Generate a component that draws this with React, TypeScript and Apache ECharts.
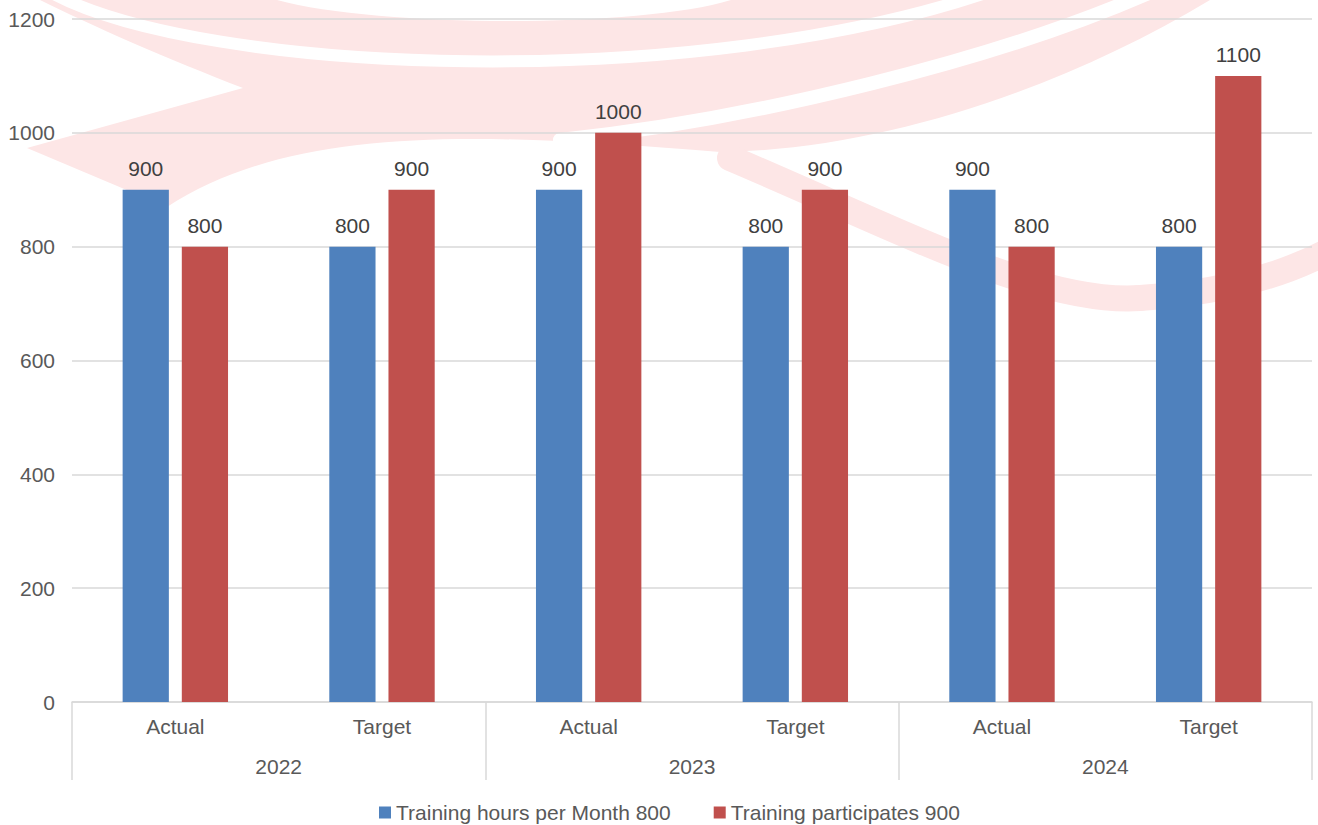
import React, { useEffect, useRef } from "react";
import * as echarts from "echarts";

const categories = ["Actual", "Target", "Actual", "Target", "Actual", "Target"];
const years = ["2022", "2023", "2024"];
const hoursPerMonth = [900, 800, 900, 800, 900, 800];
const participants = [800, 900, 1000, 900, 800, 1100];
const seriesNames = ["Training hours per Month 800", "Training participates 900"];
const yMin = 0;
const yMax = 1200;
const yInterval = 200;

const PINK = "#FDE6E6";
const FONT = "Liberation Sans, Arial, sans-serif";

const WM_MAIN =
  "M 27 148 L 243 88 C 170 60 90 25 40 0 L 1210 0 C 1060 90 880 150 720 152 C 500 135 300 120 167 207 Z";
const WM_TOP_WHITE = "M 277 0 C 380 28 640 28 731 0 Z";

echarts.graphic.registerShape("wmMain", echarts.graphic.extendPath(WM_MAIN, {}));
echarts.graphic.registerShape("wmTopWhite", echarts.graphic.extendPath(WM_TOP_WHITE, {}));

function watermark() {
  const curve = (x1: number, y1: number, cpx1: number, cpy1: number, cpx2: number, cpy2: number, x2: number, y2: number, lw: number, color: string, z: number) => ({
    type: "bezierCurve",
    z,
    silent: true,
    shape: { x1, y1, cpx1, cpy1, cpx2, cpy2, x2, y2 },
    style: { stroke: color, lineWidth: lw, fill: null, lineCap: "round" },
  });
  return [
    { type: "wmMain", x: 0, y: 0, z: -20, silent: true, style: { fill: PINK } },
    { type: "wmTopWhite", x: 0, y: 0, z: -15, silent: true, style: { fill: "#ffffff" } },
    curve(50, -8, 200, 75, 700, 95, 1000, -12, 12, "#ffffff", -15),
    curve(560, 140, 750, 120, 1000, 60, 1160, -12, 14, "#ffffff", -15),
    curve(730, 158, 900, 230, 1040, 305, 1140, 298, 26, PINK, -20),
    curve(1140, 298, 1230, 292, 1290, 272, 1330, 250, 26, PINK, -20),
  ];
}

export default function App() {
  const ref = useRef<HTMLDivElement>(null);
  useEffect(() => {
    if (!ref.current) return;
    const chart = echarts.init(ref.current, null, { renderer: "svg" });
    const labelStyle = {
      show: true,
      position: "top",
      distance: 11,
      fontSize: 21,
      color: "#404040",
      fontFamily: FONT,
    };
    chart.setOption({
      animation: false,
      backgroundColor: "#ffffff",
      graphic: watermark(),
      grid: { left: 72, right: 6, top: 19, bottom: 123, containLabel: false },
      legend: {
        left: 374,
        top: 797,
        itemWidth: 12,
        itemHeight: 12,
        itemGap: 43,
        icon: "rect",
        textStyle: { fontSize: 21, color: "#595959", fontFamily: FONT },
        data: seriesNames,
      },
      xAxis: [
        {
          type: "category",
          data: categories,
          position: "bottom",
          axisLine: { show: true, lineStyle: { color: "#d9d9d9", width: 1.5 } },
          axisTick: { show: false },
          axisLabel: { margin: 14, fontSize: 21, color: "#595959", fontFamily: FONT, interval: 0 },
        },
        {
          type: "category",
          data: years,
          position: "bottom",
          axisLine: { show: false },
          axisTick: { show: true, length: 78, lineStyle: { color: "#d9d9d9", width: 1.5 } },
          axisLabel: { margin: 54, fontSize: 21, color: "#595959", fontFamily: FONT, interval: 0 },
        },
      ],
      yAxis: {
        type: "value",
        min: yMin,
        max: yMax,
        interval: yInterval,
        axisLine: { show: false },
        axisTick: { show: false },
        axisLabel: {
          margin: 17,
          fontSize: 21,
          color: "#595959",
          fontFamily: FONT,
          formatter: (v: number) => String(v),
        },
        splitLine: { lineStyle: { color: "#d9d9d9", width: 1.5 } },
      },
      series: [
        {
          name: seriesNames[0],
          type: "bar",
          xAxisIndex: 0,
          data: hoursPerMonth,
          barGap: "28%",
          barCategoryGap: "49%",
          itemStyle: { color: "#4F81BD" },
          label: labelStyle,
        },
        {
          name: seriesNames[1],
          type: "bar",
          xAxisIndex: 0,
          data: participants,
          barGap: "28%",
          barCategoryGap: "49%",
          itemStyle: { color: "#C0504D" },
          label: labelStyle,
        },
      ],
    });
    return () => chart.dispose();
  }, []);
  return (
    <div
      ref={ref}
      style={{ position: "fixed", left: 0, top: 0, width: 1318, height: 825, background: "#fff" }}
    />
  );
}
